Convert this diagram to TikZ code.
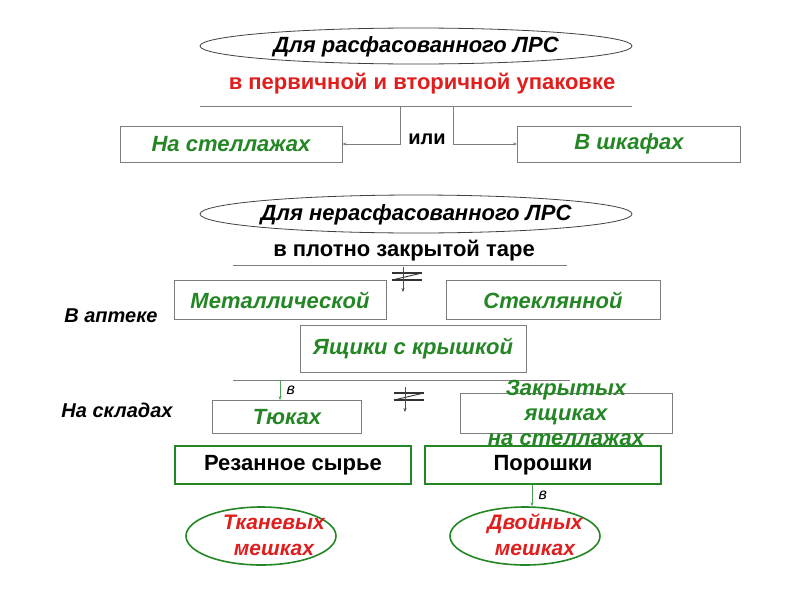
\documentclass[tikz,border=0pt]{standalone}
\usepackage{fontspec}
\setmainfont{Liberation Sans}
\usetikzlibrary{arrows.meta}
\usetikzlibrary{shapes.geometric,positioning}
\definecolor{leafgreen}{RGB}{36,134,36}
\definecolor{alertred}{RGB}{224,30,30}
\definecolor{framegray}{RGB}{125,125,125}
\newcommand{\bigfont}{\fontsize{22}{25}\selectfont}
\newcommand{\zignotsign}[1]{%
  \begin{scope}[shift={#1}]
    \draw[line width=1.6pt,black!80] (-15,-4) -- (15,-4);
    \draw[line width=1.6pt,black!80] (-15,3) -- (15,3);
    \draw[line width=0.9pt,black!80] (-15,3) -- (15,-4);
    \draw[-{Stealth[length=4pt,width=3pt]},thin,black!70] (-4,-10) -- (-4,15);
  \end{scope}%
}
\tikzset{
  oval/.style={ellipse,draw=black!75,line width=0.8pt,inner sep=0pt},
  ovaltext/.style={font=\fontsize{22}{24}\selectfont\bfseries\itshape},
  greenbox/.style={draw=framegray,line width=0.8pt,fill=white,inner sep=0pt,
    font=\bigfont\bfseries\itshape,text=leafgreen},
  sortbox/.style={draw=leafgreen,line width=1.6pt,inner sep=0pt,
    minimum width=236,minimum height=38,font=\bigfont\bfseries},
  sack/.style={ellipse,draw=leafgreen,line width=1.6pt,inner sep=0pt,
    minimum width=150,minimum height=58},
  sacktext/.style={align=center,xshift=13pt,
    font=\fontsize{21}{26}\selectfont\bfseries\itshape,text=alertred},
  plainlabel/.style={font=\fontsize{20}{22}\selectfont\bfseries\itshape},
  smalllabel/.style={font=\fontsize{16}{18}\selectfont\itshape,text=black},
  bar/.style={framegray,line width=0.9pt},
  link/.style={-{Stealth[length=4pt,width=3pt]},framegray,line width=0.8pt},
  greenlink/.style={-{Stealth[length=4pt,width=3pt]},leafgreen!80,line width=0.8pt},
}

\begin{document}
\begin{tikzpicture}[x=1pt,y=-1pt]
  \useasboundingbox[fill=white] (0,0) rectangle (800,600);
  % packed raw material
  \node[oval,minimum width=432,minimum height=36] (packed) at (416,46) {};
  \node[ovaltext] at ([yshift=-1pt]packed.center) {Для расфасованного ЛРС};
  \node[font=\fontsize{22}{24}\selectfont\bfseries,text=alertred] (wrap)
    at (422,84) {в первичной и вторичной упаковке};
  \coordinate (wrapL) at (200,106);
  \coordinate (wrapR) at (632,106);
  \draw[bar] (wrapL) -- (wrapR);
  \node[greenbox,minimum width=222,minimum height=36] (shelf) at (231,144)
    {На стеллажах};
  \node[greenbox,minimum width=223,minimum height=36] (cabinet) at (629,144)
    {В шкафах};
  \coordinate (splitL) at (400,106);
  \coordinate (splitR) at (453,106);
  \draw[link] (splitL) |- (shelf.east);
  \draw[link] (splitR) |- (cabinet.west);
  \node[font=\fontsize{20}{22}\selectfont\bfseries] (orword) at (427,139) {или};

  % unpacked raw material
  \node[oval,minimum width=432,minimum height=38] (unpacked) at (416,214) {};
  \node[ovaltext] at ([yshift=-1pt]unpacked.center) {Для нерасфасованного ЛРС};
  \node[font=\bigfont\bfseries] (tare) at (404,251)
    {в плотно закрытой таре};
  \coordinate (tareL) at (233,265);
  \coordinate (tareR) at (567,265);
  \draw[bar] (tareL) -- (tareR);
  \zignotsign{(407,277)}
  \node[plainlabel] (pharmacy) at (111,316) {В аптеке};
  \node[greenbox,minimum width=212,minimum height=39] (metal) at (280,300)
    {Металлической};
  \node[greenbox,minimum width=214,minimum height=39] (glass) at (553,300)
    {Стеклянной};
  \node[greenbox,minimum width=226,minimum height=47] (lidbox) at (413,349)
    {Ящики с крышкой};
  \coordinate (storeL) at (233,380);
  \coordinate (storeR) at (570,380);
  \draw[bar] (storeL) -- (storeR);
  \coordinate (intoBale) at (280,380);
  \node[plainlabel] (warehouse) at (117,410) {На складах};
  \node[greenbox,minimum width=149,minimum height=33] (bales) at (287,417)
    {Тюках};
  \draw[greenlink] (intoBale) -- (intoBale |- bales.north)
    node[midway,right=3pt,smalllabel] {в};
  \zignotsign{(409,397)}
  \node[greenbox,minimum width=212,minimum height=40] (closed) at (566,413) {};
  \node[font=\bigfont\bfseries\itshape,text=leafgreen,align=center]
    at (closed) {Закрытых\\ящиках\\на стеллажах};

  % kinds of raw material
  \node[sortbox] (cut) at (293,465) {Резанное сырье};
  \node[sortbox] (powder) at (543,465) {Порошки};
  \node[sack] (cloth) at (261,536) {};
  \node[sacktext] at ([yshift=1pt]cloth.center) {Тканевых\\мешках};
  \node[sack] (double) at (525,536) {};
  \node[sacktext,xshift=-3pt] at ([yshift=1pt]double.center) {Двойных\\мешках};
  \draw[greenlink] (powder.south -| 532,0) -- (double.north -| 532,0)
    node[midway,right=3pt,smalllabel] {в};
\end{tikzpicture}
\end{document}
